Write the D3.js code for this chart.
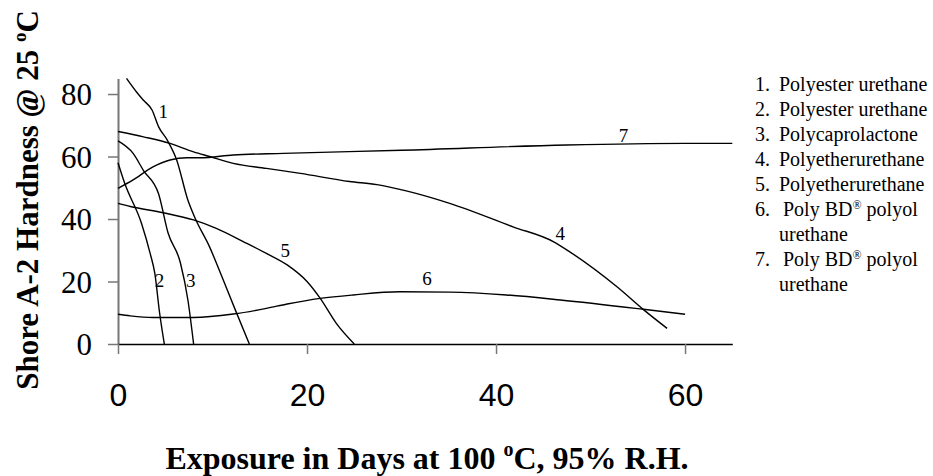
<!DOCTYPE html>
<html>
<head>
<meta charset="utf-8">
<script src="https://cdn.jsdelivr.net/npm/d3@7"></script>
<style>
  body { margin: 0; background: #fff; }
  svg { display: block; }
</style>
</head>
<body>
<div id="chart"></div>
<script>
// days of exposure / shore A-2 hardness
var days1 = [0.9, 2.0, 2.7, 3.6, 4.3, 5.2, 6.2, 7.4, 8.2, 9.7, 11.0, 12.4, 13.9];
var hard1 = [85, 80.5, 78, 74.9, 69.5, 65.3, 59, 46, 40, 31, 21.5, 11, 0];
var days2 = [0, 0.7, 2.5, 3.4, 3.9, 4.4, 4.9];
var hard2 = [58, 51.5, 38.5, 29, 22.5, 10, 0];
var days3 = [0, 1.6, 2.7, 4.3, 5.3, 6.6, 7.4, 8.0];
var hard3 = [65, 61, 55.5, 48, 35.5, 26, 14, 0];
var days4 = [0, 2.7, 5.5, 8, 9.7, 12.2, 15.7, 19.3, 24.5, 27.4, 30.5, 35.1, 41.8, 46.1, 47.8, 52.8, 55.6, 58.1];
var hard4 = [68, 66.3, 64.2, 61.5, 60, 57.8, 56.2, 54.6, 52, 51, 49, 45, 37.5, 32.7, 29.5, 18.3, 11, 5];
var days5 = [0, 1.3, 4.8, 8, 10.4, 13.3, 15.7, 17.9, 20, 21.4, 23.1, 25];
var hard5 = [45, 44, 42, 39.7, 37, 32.7, 29, 25.3, 20, 14.6, 6.6, 0];
var days6 = [0, 1.3, 3.7, 8, 12.2, 15.7, 17.9, 21.4, 24.9, 29.8, 35.1, 41.1, 46.8, 55.6, 60];
var hard6 = [9.5, 9, 8.5, 8.5, 9.6, 11.4, 12.8, 14.6, 15.7, 16.7, 16.6, 15.7, 14.1, 11.1, 9.5];
var days7 = [0, 1.6, 3.7, 5.5, 7.3, 8.7, 12.2, 17.5, 30, 47.5, 60, 65];
var hard7 = [49.8, 52.5, 56.7, 58.9, 59.6, 59.6, 60.5, 61, 62, 63.7, 64.2, 64.2];

var curveNames = ['1', '2', '3', '4', '5', '6', '7'];
// where each curve number sits (day, hardness)
var labelDay = [4.8, 4.4, 7.7, 46.8, 17.7, 32.7, 53.5];
var labelHard = [74.3, 20.5, 20.5, 35.4, 30, 21, 66.9];

var xTicks = [0, 20, 40, 60];
var yTicks = [0, 20, 40, 60, 80];

var legendNum = ['1.', '2.', '3.', '4.', '5.', '6.', '7.'];
var legendText = ['Polyester urethane', 'Polyester urethane', 'Polycaprolactone',
  'Polyetherurethane', 'Polyetherurethane', 'Poly BD® polyol urethane', 'Poly BD® polyol urethane'];

var width = 933, height = 476;
var serif = "'Liberation Serif', 'Times New Roman', serif";
var sans = "'Liberation Sans', Arial, sans-serif";

var x = d3.scaleLinear().domain([0, 65]).range([118, 732.3]);
var y = d3.scaleLinear().domain([0, 85]).range([344, 78.4]);

var svg = d3.select("#chart").append("svg").attr("width", width).attr("height", height);

var series = [[days1, hard1], [days2, hard2], [days3, hard3], [days4, hard4], [days5, hard5], [days6, hard6], [days7, hard7]];

// axes
var yAxis = svg.append("g").attr("transform", "translate(" + x(0) + ",0)")
  .call(d3.axisLeft(y).tickValues(yTicks).tickSize(10).tickSizeOuter(0).tickPadding(16));
yAxis.select(".domain").attr("stroke", "#777").attr("stroke-width", 2);
yAxis.selectAll(".tick line").attr("stroke", "#777").attr("stroke-width", 1.5);
yAxis.selectAll("text").attr("font-family", serif).attr("font-size", 31).attr("fill", "#000").attr("dy", "0.34em");

var xAxis = svg.append("g").attr("transform", "translate(0," + y(0) + ")")
  .call(d3.axisBottom(x).tickValues(xTicks).tickSize(10).tickSizeOuter(0).tickPadding(29));
xAxis.select(".domain").attr("stroke", "#000").attr("stroke-width", 1.5);
xAxis.selectAll(".tick line").attr("stroke", "#777").attr("stroke-width", 1.5);
xAxis.selectAll("text").attr("font-family", sans).attr("font-size", 32).attr("fill", "#000");

// curves
var line = d3.line().x(function(d) { return x(d[0]); }).y(function(d) { return y(d[1]); })
  .curve(d3.curveMonotoneX);

series.forEach(function(s) {
  var pts = s[0].map(function(d, i) { return [d, s[1][i]]; });
  svg.append("path").attr("d", line(pts))
    .attr("fill", "none").attr("stroke", "#000").attr("stroke-width", 1.4);
});

svg.selectAll(".clabel").data(curveNames).enter().append("text").attr("class", "clabel")
  .attr("x", function(d, i) { return x(labelDay[i]); })
  .attr("y", function(d, i) { return y(labelHard[i]); })
  .attr("dy", "0.35em").attr("text-anchor", "middle")
  .attr("font-family", serif).attr("font-size", 19)
  .text(function(d) { return d; });

// axis titles
var xt = svg.append("text").attr("x", 427).attr("y", 469).attr("text-anchor", "middle")
  .attr("font-family", serif).attr("font-size", 32).attr("font-weight", "bold");
xt.append("tspan").text("Exposure in Days at 100 ");
xt.append("tspan").attr("font-size", 20).attr("dy", -13).text("o");
xt.append("tspan").attr("dy", 13).text("C, 95% R.H.");

var yt = svg.append("text").attr("transform", "translate(38,200) rotate(-90)").attr("text-anchor", "middle")
  .attr("font-family", serif).attr("font-size", 31).attr("font-weight", "bold");
yt.append("tspan").text("Shore A-2 Hardness @ 25 ");
yt.append("tspan").attr("font-size", 19).attr("dy", -12).text("o");
yt.append("tspan").attr("dy", 12).text("C");

// legend
var lineNo = 0;
legendText.forEach(function(t, i) {
  var by = 90.7 + lineNo * 25;
  svg.append("text").attr("x", 755).attr("y", by).attr("font-family", serif).attr("font-size", 20)
    .text(legendNum[i]);
  if (t.indexOf("®") >= 0) {
    var g = svg.append("text").attr("x", 783).attr("y", by).attr("font-family", serif).attr("font-size", 20);
    g.append("tspan").text("Poly BD");
    g.append("tspan").attr("font-size", 12).attr("dy", -7).text("®");
    g.append("tspan").attr("dy", 7).text(" polyol");
    lineNo++;
    svg.append("text").attr("x", 779).attr("y", 90.7 + lineNo * 25).attr("font-family", serif).attr("font-size", 20)
      .text("urethane");
  } else {
    svg.append("text").attr("x", 779).attr("y", by).attr("font-family", serif).attr("font-size", 20)
      .text(t);
  }
  lineNo++;
});
</script>
</body>
</html>
